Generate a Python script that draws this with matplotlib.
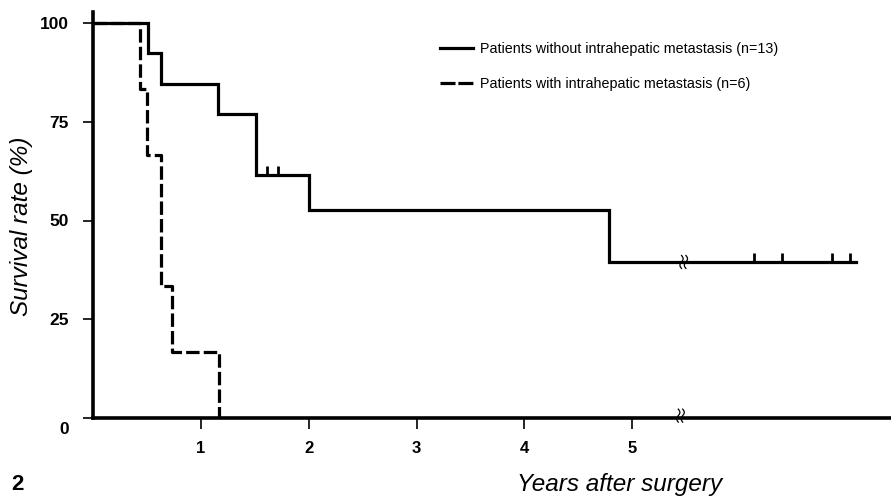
import numpy as np
import matplotlib
matplotlib.use("Agg")
import matplotlib.pyplot as plt
from matplotlib.lines import Line2D
from matplotlib.transforms import ScaledTranslation

plt.rcParams['font.family'] = ['Liberation Sans', 'DejaVu Sans']

# ---- data (x in axis units: years, break after ~5.45) ----
no_mets_times = [0, 0.51, 0.63, 1.16, 1.51, 2.0, 4.79]
no_mets_surv = [100, 92.3, 84.6, 76.9, 61.5, 52.7, 39.5]
no_mets_end = 7.08
no_mets_censor_t = [1.61, 1.71, 6.13, 6.39, 6.86, 7.02]
no_mets_censor_s = [61.5, 61.5, 39.5, 39.5, 39.5, 39.5]

mets_times = [0, 0.435, 0.50, 0.63, 0.73, 1.17]
mets_surv = [100, 83.3, 66.7, 33.3, 16.7, 0]

x_ticks = [1, 2, 3, 4, 5]
y_ticks = [0, 25, 50, 75, 100]
break_x = 5.45

label_no = "Patients without intrahepatic metastasis (n=13)"
label_mets = "Patients with intrahepatic metastasis (n=6)"

W, H = 891, 496
fig = plt.figure(figsize=(W / 100, H / 100), dpi=100)
left_px, right_px, top_px, bot_px = 93.25, 891, 12, 418
ax = fig.add_axes([left_px / W, 1 - bot_px / H, (right_px - left_px) / W, (bot_px - top_px) / H])
xpx = 107.75
ypx = 3.95
ax.set_xlim(0, (right_px - left_px) / xpx)
ax.set_ylim(0, (bot_px - top_px) / ypx)

lw = 2.3
# solid curve
xs = list(no_mets_times) + [no_mets_end]
ys = list(no_mets_surv) + [no_mets_surv[-1]]
ax.step(xs, ys, where='post', color='black', lw=lw, solid_joinstyle='miter', clip_on=False, zorder=3)
for t, s in zip(no_mets_censor_t, no_mets_censor_s):
    ax.plot([t, t], [s, s + 2.2], color='black', lw=2.0, solid_capstyle='butt', clip_on=False, zorder=3)

# dashed curve
ax.step(mets_times, mets_surv, where='post', color='black', lw=lw, dashes=(4.2, 1.3),
        clip_on=False, zorder=4)

# spines
for sp in ['top', 'right']:
    ax.spines[sp].set_visible(False)
ax.spines['left'].set_linewidth(2.6)
ax.spines['bottom'].set_linewidth(2.6)

ax.set_xticks(x_ticks)
ax.set_xticklabels([str(v) for v in x_ticks], fontsize=12, fontweight='bold')
ax.set_yticks(y_ticks)
ax.set_yticklabels([str(v) for v in y_ticks], fontsize=12.5, fontweight='bold')
ax.tick_params(axis='x', direction='out', length=8, width=1.2, pad=8.5)
ax.tick_params(axis='y', direction='out', length=7, width=1.2, pad=10.5)
# the "0" label sits a little below its tick in the reference
zl = ax.get_yticklabels()[0]
zl.set_transform(zl.get_transform() + ScaledTranslation(0, -10 / 100, fig.dpi_scale_trans))

# break marks
def brk(x0, y0):
    t = np.linspace(-1, 1, 30)
    for off in (-2.2, 2.2):
        xx = x0 + (off + 1.6 * np.sin(np.pi * t)) / xpx
        yy = y0 + (t * 6.5) / ypx
        ax.plot(xx, yy, color='black', lw=0.9, clip_on=False, zorder=5)

brk(break_x, 0.6)
brk(break_x + 0.03, no_mets_surv[-1])

# legend
handles = [Line2D([0], [0], color='black', lw=lw),
           Line2D([0], [0], color='black', lw=lw, dashes=(4.7, 0.9))]
leg = fig.legend(handles, [label_no, label_mets], loc='upper left',
                 bbox_to_anchor=(427 / W, 1 - 29 / H), frameon=False,
                 fontsize=10.3, handlelength=2.3, handletextpad=0.5, labelspacing=1.5)

fig.text(22 / W, 1 - 226 / H, "Survival rate (%)", rotation=90, style='italic',
         fontsize=17.5, ha='center', va='center')
fig.text(620 / W, 1 - 485 / H, "Years after surgery", style='italic',
         fontsize=17.5, ha='center', va='center')
fig.text(17 / W, 1 - 485 / H, "2", fontsize=16, fontweight='bold', ha='center', va='center')

fig.savefig("out.png", dpi=100)
